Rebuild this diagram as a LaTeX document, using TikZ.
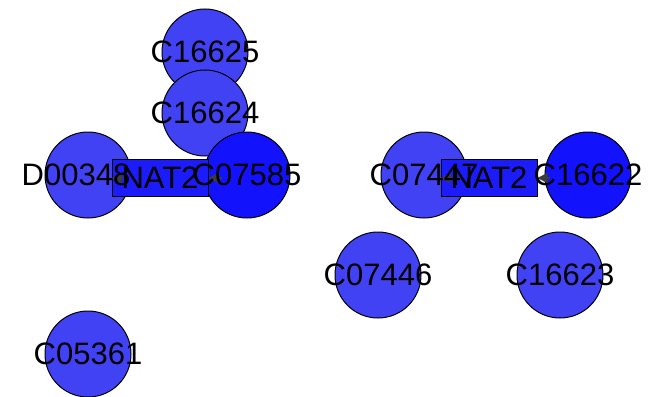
\documentclass[tikz,border=0pt]{standalone}
\usepackage{fontspec}
\setmainfont{Liberation Sans}
\usepackage{xcolor}
\definecolor{cpdlight}{RGB}{66,66,245}
\definecolor{cpddark}{RGB}{18,18,252}
\definecolor{enzfill}{RGB}{28,28,250}
\definecolor{edgegray}{RGB}{60,60,60}
\tikzset{
  cpd/.style={circle,draw=black,line width=1pt,minimum size=86pt,inner sep=0pt,fill=cpdlight},
  cpdhi/.style={cpd,fill=cpddark},
  enz/.style={rectangle,draw=black,line width=1pt,minimum width=96pt,minimum height=37pt,inner sep=0pt,fill=enzfill},
  lbl/.style={inner sep=0pt,font=\fontsize{31}{31}\selectfont},
  edge/.style={draw=edgegray,line width=2pt,-{Triangle[length=10pt,width=10pt]}}
}
\usetikzlibrary{arrows.meta}
\begin{document}
\begin{tikzpicture}[x=1pt,y=-1pt]
\useasboundingbox (0,0) rectangle (658,396);

\node[cpd](c16625) at(205,52){};
\node[cpd](c16624) at(205,113){};
\node[cpd](d00348) at(88,175){};
\node[cpdhi](c07585) at(247,175){};
\node[cpd](c07447) at(424,175){};
\node[cpdhi](c16622) at(588,175){};
\node[cpd](c07446) at(378,275){};
\node[cpd](c16623) at(560,275){};
\node[cpd](c05361) at(88,354){};
\node[enz](nat2a) at(160,178){};
\node[enz](nat2b) at(489,178){};
\draw[edge]([xshift=16pt]nat2a.west)--(nat2a.west);
\draw[edge]([xshift=13pt]nat2a.east)--(nat2a.east);
\draw[edge]([xshift=18pt]nat2b.west)--(nat2b.west);
\draw[edge]([xshift=12pt]nat2b.east)--(nat2b.east);
\node[lbl] at(c16625){C16625};
\node[lbl] at(c16624){C16624};
\node[lbl] at([xshift=-12pt]d00348.center){D00348};
\node[lbl] at(c07585){C07585};
\node[lbl] at(c07447){C07447};
\node[lbl] at(c16622){C16622};
\node[lbl] at(c07446){C07446};
\node[lbl] at(c16623){C16623};
\node[lbl] at(c05361){C05361};
\node[lbl] at(nat2a){NAT2};
\node[lbl] at(nat2b){NAT2};
\end{tikzpicture}
\end{document}
